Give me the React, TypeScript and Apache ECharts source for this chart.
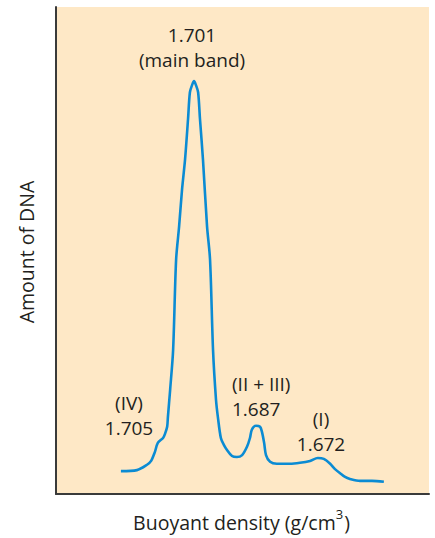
import React, { useEffect, useRef } from "react";
import * as echarts from "echarts";

// Horizontal position along the gradient (arbitrary units, 0-100 across the plot)
const position = [
  17.4, 21.7, 24.4, 25.5, 26.5, 27.3, 28.7, 29.2, 29.8, 30.0, 30.6, 31.4, 32.2, 33.0, 33.8,
  34.6, 35.4, 35.9, 36.5, 37.0, 37.5, 38.1, 38.6, 39.4, 40.5, 41.3, 42.1, 42.9, 43.4, 44.2,
  45.0, 45.8, 47.2, 48.5, 49.9, 51.2, 52.0, 52.5, 53.6, 54.7, 55.2, 55.8, 56.3, 57.4, 59.2,
  62.7, 65.4, 68.1, 70.2, 71.8, 73.5, 74.8, 76.1, 77.5, 78.8, 81.5, 84.7, 87.9,
];
// Amount of DNA (arbitrary units)
const amount = [
  4.7, 4.9, 6.0, 6.8, 8.6, 10.5, 11.5, 12.3, 13.8, 15.8, 21.4, 29.6, 48.1, 54.9, 62.6,
  68.7, 77.0, 82.5, 84.0, 84.8, 84.0, 82.5, 77.0, 68.7, 54.9, 48.1, 29.6, 19.3, 15.8, 11.5,
  10.1, 9.1, 7.8, 7.6, 8.0, 9.7, 11.5, 13.2, 14.0, 13.8, 12.8, 10.5, 8.0, 6.6, 6.2,
  6.2, 6.4, 6.8, 7.4, 7.2, 6.2, 5.1, 4.3, 3.5, 3.1, 2.7, 2.7, 2.5,
];

const bandLabels = ["1.701\n(main band)", "(IV)\n1.705", "(II + III)\n1.687", "(I)\n1.672"];
const xAxisTitle = ["Buoyant density (g/cm", "3", ")"];
const yAxisTitle = "Amount of DNA";

const FONT = "'Open Sans', 'DejaVu Sans', sans-serif";

function measure(text: string, size: number): number {
  const c = document.createElement("canvas").getContext("2d");
  if (!c) return text.length * size * 0.5;
  c.font = `${size}px 'Open Sans'`;
  return c.measureText(text).width;
}

export default function App() {
  const ref = useRef<HTMLDivElement>(null);
  useEffect(() => {
    document.body.style.margin = "0";
    if (!ref.current) return;
    const chart = echarts.init(ref.current, undefined, { renderer: "svg" });
    const textColor = "#231f20";
    const labelSize = 19;
    const titleSize = 19.5;
    const supSize = 13;

    const w1 = measure(xAxisTitle[0], titleSize);
    const w2 = measure(xAxisTitle[1], supSize);
    const w3 = measure(xAxisTitle[2], titleSize);
    const total = w1 + w2 + 1 + w3;
    const x0 = 241.5 - total / 2;

    const mkLabel = (text: string, x: number, y: number, align: string) => ({
      type: "text",
      x,
      y,
      style: {
        text,
        font: `${labelSize}px ${FONT}`,
        fill: textColor,
        align,
        verticalAlign: "middle",
        lineHeight: 25,
      },
    });

    chart.setOption({
      animation: false,
      grid: {
        left: 56,
        top: 7,
        width: 373,
        height: 487,
        show: true,
        backgroundColor: "#fee8c6",
        borderWidth: 0,
      },
      xAxis: {
        type: "value",
        min: 0,
        max: 100,
        axisLine: { show: true, onZero: false, lineStyle: { color: "#3a3a3a", width: 2 } },
        axisTick: { show: false },
        axisLabel: { show: false },
        splitLine: { show: false },
      },
      yAxis: {
        type: "value",
        min: 0,
        max: 100,
        axisLine: { show: true, onZero: false, lineStyle: { color: "#3a3a3a", width: 2 } },
        axisTick: { show: false },
        axisLabel: { show: false },
        splitLine: { show: false },
      },
      series: [
        {
          type: "line",
          data: position.map((p, i) => [p, amount[i]]),
          smooth: 0.3,
          symbol: "none",
          lineStyle: { color: "#0b8bd3", width: 2.6 },
        },
      ],
      graphic: [
        mkLabel(bandLabels[0], 192, 47, "center"),
        mkLabel(bandLabels[1], 129, 415, "center"),
        mkLabel(bandLabels[2], 232, 396, "left"),
        mkLabel(bandLabels[3], 321, 431, "center"),
        {
          type: "text",
          x: x0,
          y: 522,
          style: { text: xAxisTitle[0], font: `${titleSize}px ${FONT}`, fill: textColor, align: "left", verticalAlign: "middle" },
        },
        {
          type: "text",
          x: x0 + w1,
          y: 514,
          style: { text: xAxisTitle[1], font: `${supSize}px ${FONT}`, fill: textColor, align: "left", verticalAlign: "middle" },
        },
        {
          type: "text",
          x: x0 + w1 + w2 + 1,
          y: 522,
          style: { text: xAxisTitle[2], font: `${titleSize}px ${FONT}`, fill: textColor, align: "left", verticalAlign: "middle" },
        },
        {
          type: "text",
          x: 26,
          y: 252,
          rotation: Math.PI / 2,
          style: { text: yAxisTitle, font: `${titleSize}px ${FONT}`, fill: textColor, align: "center", verticalAlign: "middle" },
        },
      ],
    });
    return () => chart.dispose();
  }, []);
  return <div ref={ref} style={{ width: 435, height: 538 }} />;
}
